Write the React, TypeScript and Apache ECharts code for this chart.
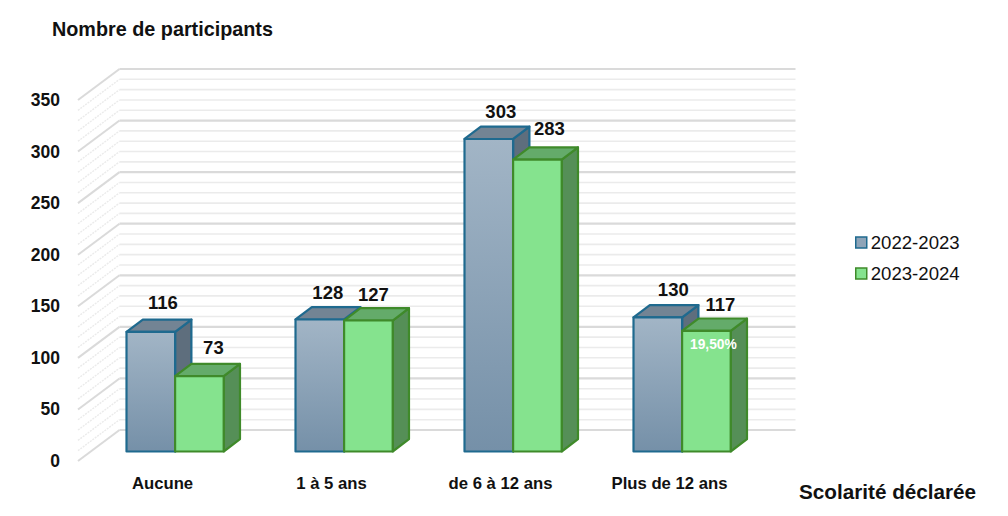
import React, { useEffect, useRef } from "react";
import * as echarts from "echarts";

const categories = ["Aucune", "1 à 5 ans", "de 6 à 12 ans", "Plus de 12 ans"];
const seriesNames = ["2022-2023", "2023-2024"];
const values2022 = [116, 128, 303, 130];
const values2023 = [73, 127, 283, 117];
const annotations2023 = ["", "", "", "19,50%"];
const majorTicks = [0, 50, 100, 150, 200, 250, 300, 350];
const minorTicks = [
  10, 20, 30, 40, 60, 70, 80, 90, 110, 120, 130, 140, 160, 170, 180, 190, 210, 220, 230, 240, 260, 270, 280, 290, 310,
  320, 330, 340,
];

// Projection of the 3D scene
const WALL_DX = 41.5;
const WALL_DY = -31;
const PLANE_DX = 12.6;
const PLANE_DY = -9.5;
const BAR_DX = 16.3;
const BAR_DY = -12.3;
const BAR_RATIO = 0.2875;
const FONT = '"Liberation Sans", Arial, sans-serif';

// Per-label nudges from the default spot [x, y]
const labelNudge2022: number[][] = [[-1, -1], [-5, 1], [-1, 1], [2.5, 0]];
const labelNudge2023: number[][] = [[1, -1], [-8, 2], [-1, -3], [1, 2]];

const wallRender = (major: boolean) => (params: any, api: any) => {
  const cs = params.coordSys;
  const y = api.coord([0, api.value(0)])[1];
  const left = cs.x;
  const right = cs.x + cs.width;
  const stroke = major ? "#dadada" : "#ebebeb";
  return {
    type: "group",
    children: [
      {
        type: "line",
        shape: { x1: left, y1: y, x2: left + WALL_DX, y2: y + WALL_DY },
        style: { stroke, lineWidth: major ? 2 : 1.4, lineDash: major ? undefined : [2, 1] },
      },
      {
        type: "line",
        shape: { x1: left + WALL_DX, y1: y + WALL_DY, x2: right + WALL_DX, y2: y + WALL_DY },
        style: { stroke, lineWidth: major ? 2.2 : 1.6 },
      },
    ],
  };
};

const vGrad = (top: string, bottom: string) =>
  new echarts.graphic.LinearGradient(0, 0, 0, 1, [
    { offset: 0, color: top },
    { offset: 1, color: bottom },
  ]);

type BarStyle = {
  side: -1 | 1;
  front: any;
  top: string;
  right: string;
  border: string;
  nudge: number[][];
  notes?: string[];
};

const barRender = (s: BarStyle) => (params: any, api: any) => {
  const idx = api.value(0);
  const val = api.value(1);
  const base = api.coord([idx, 0]);
  const tip = api.coord([idx, val]);
  const w = api.size([1, 0])[0] * BAR_RATIO;
  const cx = base[0] + PLANE_DX;
  const x0 = s.side < 0 ? cx - w : cx;
  const x1 = x0 + w;
  const y0 = base[1] + PLANE_DY;
  const yt = tip[1] + PLANE_DY;
  const line = { stroke: s.border, lineWidth: 2.2, lineJoin: "round" };
  const nudge = s.nudge[idx];
  const children: any[] = [
    {
      type: "polygon",
      shape: { points: [[x1, y0], [x1 + BAR_DX, y0 + BAR_DY], [x1 + BAR_DX, yt + BAR_DY], [x1, yt]] },
      style: { fill: s.right, ...line },
    },
    {
      type: "polygon",
      shape: { points: [[x0, yt], [x0 + BAR_DX, yt + BAR_DY], [x1 + BAR_DX, yt + BAR_DY], [x1, yt]] },
      style: { fill: s.top, ...line },
    },
    {
      type: "polygon",
      shape: { points: [[x0, y0], [x0, yt], [x1, yt], [x1, y0]] },
      style: { fill: s.front, ...line },
    },
    {
      type: "text",
      style: {
        text: String(val),
        x: x0 + w / 2 + 13 + nudge[0],
        y: yt - 28 + nudge[1],
        align: "center",
        verticalAlign: "middle",
        font: `bold 18.5px ${FONT}`,
        fill: "#111111",
      },
    },
  ];
  const note = s.notes && s.notes[idx];
  if (note) {
    children.push({
      type: "text",
      style: {
        text: note,
        x: x0 + w / 2 + 7,
        y: yt + 14,
        align: "center",
        verticalAlign: "middle",
        font: `bold 13.8px ${FONT}`,
        fill: "#ffffff",
      },
    });
  }
  return { type: "group", children };
};

export default function App() {
  const ref = useRef<HTMLDivElement>(null);
  useEffect(() => {
    const chart = echarts.init(ref.current!, undefined, { renderer: "svg" });
    const blueFront = vGrad("#a2b5c6", "#7590a8");
    const greenFront = "#85e38e";
    chart.setOption({
      animation: false,
      backgroundColor: "#ffffff",
      title: [
        {
          text: "Nombre de participants",
          left: 47,
          top: 14,
          textStyle: { fontFamily: FONT, fontSize: 19.8, fontWeight: "bold", color: "#111111" },
        },
        {
          text: "Scolarité déclarée",
          left: 794,
          top: 476,
          textStyle: { fontFamily: FONT, fontSize: 20.7, fontWeight: "bold", color: "#111111" },
        },
      ],
      legend: {
        orient: "vertical",
        left: 850,
        top: 228,
        itemWidth: 11,
        itemHeight: 11,
        itemGap: 12,
        icon: "rect",
        textStyle: { fontFamily: FONT, fontSize: 18.6, color: "#111111", padding: [0, 0, 0, -1] },
        data: [
          { name: seriesNames[0], itemStyle: { color: "#8ea4b8", borderColor: "#1f6a8f", borderWidth: 1.5 } },
          { name: seriesNames[1], itemStyle: { color: greenFront, borderColor: "#3f8a2a", borderWidth: 1.5 } },
        ],
      },
      grid: { left: 78, width: 676, top: 100, height: 361 },
      xAxis: {
        type: "category",
        data: categories,
        axisLine: { show: false },
        axisTick: { show: false },
        splitLine: { show: false },
        axisLabel: { margin: 14, interval: 0, fontFamily: FONT, fontSize: 16.7, fontWeight: "bold", color: "#111111" },
      },
      yAxis: {
        type: "value",
        min: 0,
        max: 350,
        interval: 50,
        axisLine: { show: false },
        axisTick: { show: false },
        splitLine: { show: false },
        axisLabel: {
          margin: 18,
          padding: [0, 0, 6, 0],
          fontFamily: FONT,
          fontSize: 17.5,
          fontWeight: "bold",
          color: "#111111",
        },
      },
      series: [
        {
          id: "minor-grid",
          type: "custom",
          renderItem: wallRender(false),
          data: minorTicks.map((v) => [v]),
          encode: { y: 0 },
          clip: false,
          silent: true,
          z: 1,
        },
        {
          id: "major-grid",
          type: "custom",
          renderItem: wallRender(true),
          data: majorTicks.map((v) => [v]),
          encode: { y: 0 },
          clip: false,
          silent: true,
          z: 1,
        },
        {
          name: seriesNames[0],
          type: "custom",
          renderItem: barRender({
            side: -1,
            front: blueFront,
            top: "#738494",
            right: "#5e6e7d",
            border: "#1f6a8f",
            nudge: labelNudge2022,
          }),
          data: values2022.map((v, i) => [i, v]),
          encode: { x: 0, y: 1 },
          clip: false,
          z: 2,
        },
        {
          name: seriesNames[1],
          type: "custom",
          renderItem: barRender({
            side: 1,
            front: greenFront,
            top: "#64ab6a",
            right: "#558f57",
            border: "#3f8a2a",
            nudge: labelNudge2023,
            notes: annotations2023,
          }),
          data: values2023.map((v, i) => [i, v]),
          encode: { x: 0, y: 1 },
          clip: false,
          z: 3,
        },
      ],
    });
    return () => chart.dispose();
  }, []);
  return <div ref={ref} style={{ position: "absolute", left: 0, top: 0, width: 1008, height: 516 }} />;
}
